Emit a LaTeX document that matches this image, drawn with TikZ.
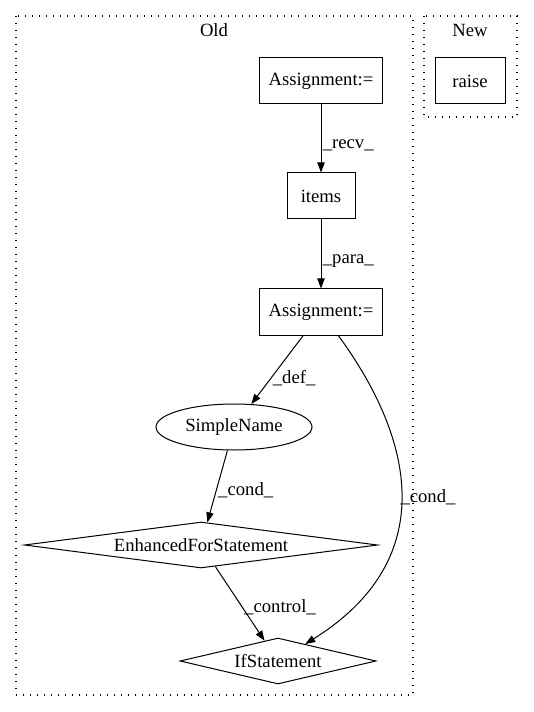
\documentclass[tikz,border=0pt]{standalone}
\usepackage{fontspec}
\setmainfont{Liberation Serif}
\usetikzlibrary{shapes.geometric,arrows.meta}

\begin{document}
\begin{tikzpicture}[
    x=0.75pt, y=-0.75pt,
    every node/.style={font=\fontsize{14pt}{16pt}\selectfont, line width=0.75pt},
    box/.style={draw, rectangle, minimum height=34.5pt, inner sep=3pt},
    oval/.style={draw, ellipse, minimum width=117pt, minimum height=34.5pt, inner sep=0pt},
    dia/.style={draw, diamond, aspect=7.7, inner sep=0pt, minimum height=34.5pt},
    lbl/.style={right, inner sep=1pt},
    cluster/.style={dash pattern=on 0.75pt off 4.5pt, line width=0.9pt},
    >={Triangle[length=7.5pt,width=5.5pt]}
]
    \useasboundingbox (0,0) rectangle (533,712);

    % 1. Clusters
    \draw[cluster] (16,16) rectangle (413,695);
    \node (oldlbl) at (214,30) {Old};
    \draw[cluster] (424,16) rectangle (517,117);
    \node (newlbl) at (470,30) {New};

    % 2. Define the nodes
    \node[box, minimum width=52.5pt] (raise) at (470,81) {raise};
    \node[box, minimum width=92pt] (asg1) at (321,81) {Assignment:=};
    \node[box, minimum width=51pt] (items) at (321,196) {items};
    \node[box, minimum width=92pt] (asg2) at (321,312) {Assignment:=};
    \node[oval] (sname) at (234,427) {SimpleName};
    \node[dia, minimum width=265pt] (efor) at (201,545) {EnhancedForStatement};
    \node[dia, minimum width=147pt] (ifst) at (278,661) {IfStatement};

    % 3. Draw the arrows
    \draw[->, line width=0.75pt] (asg1) -- (items) node[pos=0.6, lbl] {\_recv\_};
    \draw[->, line width=0.75pt] (items) -- (asg2) node[pos=0.6, lbl] {\_para\_};
    \draw[->, line width=0.75pt] (asg2) -- (sname) node[pos=0.62, lbl] {\_def\_};
    \draw[->, line width=0.75pt] (sname) -- (efor) node[pos=0.55, lbl] {\_cond\_};
    \draw[->, line width=0.75pt] (efor) -- (ifst) node[pos=0.55, lbl] {\_control\_};

    % Assignment -> IfStatement (curved)
    \draw[->, line width=0.75pt] (asg2) .. controls (415,440) and (440,560) .. (ifst);
    \node (condlbl) at (428,497) {\_cond\_};

\end{tikzpicture}
\end{document}
